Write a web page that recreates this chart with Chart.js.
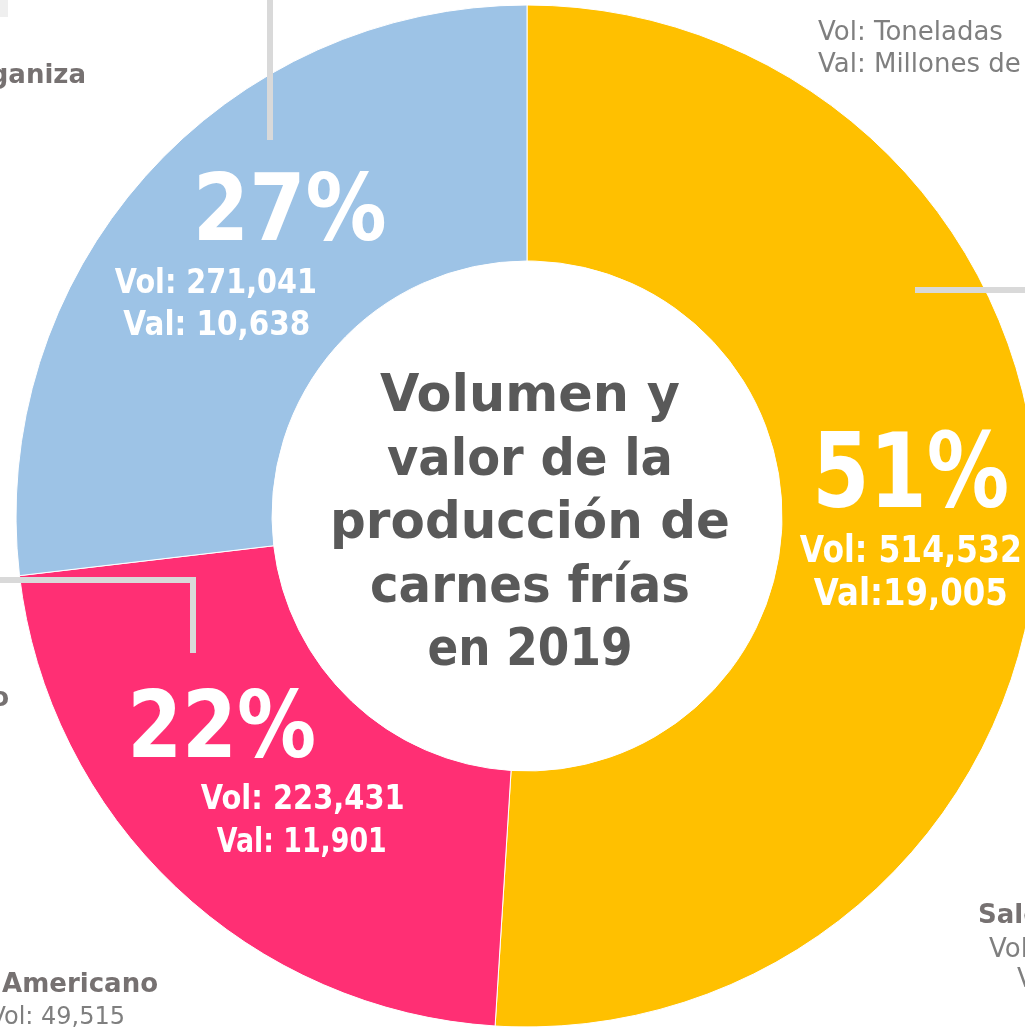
<!DOCTYPE html>
<html lang="es">
<head>
<meta charset="utf-8">
<script src="https://cdn.jsdelivr.net/npm/chart.js@4.4.1/dist/chart.umd.min.js"></script>
<style>
  html, body { margin: 0; padding: 0; background: #fff; overflow: hidden; }
  #wrap { position: absolute; left: 0; top: 0; width: 1054px; height: 1032px; }
</style>
</head>
<body>
<div id="wrap"><canvas id="donut"></canvas></div>
<script>
// datos (volumen en toneladas, valor en millones de pesos)
const categories = ['Salchicha', 'Otros', 'Jamón'];
const volumen = [514532, 223431, 271041];
const valor = [19005, 11901, 10638];
const valSep = [':', ': ', ': '];
const titulo = ['Volumen y', 'valor de la', 'producción de', 'carnes frías', 'en 2019'];

const colores = ['#FFC000', '#FF2F74', '#9DC3E6'];
const FONT = '"DejaVu Sans", "Liberation Sans", sans-serif';

// posicion de las etiquetas respecto al centro de cada arco
const etiquetas = [
  { pct: [1, -21, 103, 197], vol: [1, 34, 37, 222], val: [1, 77, 37, 194] },
  { pct: [-42, -37, 92, 189], vol: [39, 15, 34, 204], val: [38, 58, 34, 170] },
  { pct: [49, -21, 92, 194], vol: [-25, 32, 34, 202], val: [-24, 74, 34, 187] }
];

const fmt = n => n.toLocaleString('en-US');

function texto(ctx, str, x, y, size, weight, color, align, maxW) {
  ctx.font = weight + ' ' + size + 'px ' + FONT;
  ctx.fillStyle = color;
  ctx.textAlign = align;
  ctx.textBaseline = 'alphabetic';
  if (maxW) ctx.fillText(str, x, y, maxW);
  else ctx.fillText(str, x, y);
}

const anotaciones = {
  id: 'anotaciones',
  afterDatasetsDraw(chart) {
    const ctx = chart.ctx;
    const arcs = chart.getDatasetMeta(0).data;
    const total = volumen.reduce((a, b) => a + b, 0);
    ctx.save();

    // lineas guia
    ctx.strokeStyle = '#D9D9D9';
    ctx.lineWidth = 6;
    ctx.lineJoin = 'miter';
    [[[270, 0], [270, 140]], [[915, 290], [1040, 290]], [[-5, 580], [193, 580], [193, 653]]].forEach(pts => {
      ctx.beginPath();
      pts.forEach((p, i) => i ? ctx.lineTo(p[0], p[1]) : ctx.moveTo(p[0], p[1]));
      ctx.stroke();
    });
    ctx.fillStyle = '#EFEFEF';
    ctx.fillRect(0, 0, 8, 17);

    // etiquetas dentro de cada segmento
    arcs.forEach((arc, i) => {
      const c = arc.tooltipPosition();
      const e = etiquetas[i];
      const pct = Math.round(volumen[i] / total * 100) + '%';
      texto(ctx, pct, c.x + e.pct[0], c.y + e.pct[1], e.pct[2], 'bold', '#fff', 'center', e.pct[3]);
      texto(ctx, 'Vol: ' + fmt(volumen[i]), c.x + e.vol[0], c.y + e.vol[1], e.vol[2], 'bold', '#fff', 'center', e.vol[3]);
      texto(ctx, 'Val' + valSep[i] + fmt(valor[i]), c.x + e.val[0], c.y + e.val[1], e.val[2], 'bold', '#fff', 'center', e.val[3]);
    });

    // titulo central
    const cx = arcs[0].x, cy = arcs[0].y;
    const anchos = [300, 286, 400, 320, 205];
    titulo.forEach((linea, i) => {
      texto(ctx, linea, cx + 3, cy - 105 + i * 63.5, 52, 'bold', '#595959', 'center', anchos[i]);
    });

    // textos exteriores
    texto(ctx, 'Vol: Toneladas', 818, 40, 26, 'normal', '#7F7F7F', 'left');
    texto(ctx, 'Val: Millones de pesos', 818, 72, 26, 'normal', '#7F7F7F', 'left');
    texto(ctx, 'Longaniza', 86, 83, 26, 'bold', '#767171', 'right');
    texto(ctx, 'o', 9, 706, 26, 'bold', '#767171', 'right');
    texto(ctx, 'Americano', 158, 992, 26, 'bold', '#767171', 'right');
    texto(ctx, 'Vol: 49,515', 125, 1024, 24, 'normal', '#7F7F7F', 'right');
    texto(ctx, 'Salchicha', 978, 923, 26, 'bold', '#767171', 'left');
    texto(ctx, 'Vol:', 989, 957, 26, 'normal', '#7F7F7F', 'left');
    texto(ctx, 'Val:', 1017, 987, 26, 'normal', '#7F7F7F', 'left');

    ctx.restore();
  }
};

new Chart(document.getElementById('donut'), {
  type: 'doughnut',
  data: {
    labels: categories,
    datasets: [{
      data: volumen,
      backgroundColor: colores,
      borderColor: '#ffffff',
      borderWidth: 1,
      hoverOffset: 0
    }]
  },
  options: {
    responsive: true,
    maintainAspectRatio: false,
    animation: false,
    radius: 511,
    cutout: '49.9%',
    layout: { padding: 0 },
    plugins: {
      legend: { display: false },
      tooltip: { enabled: false }
    }
  },
  plugins: [anotaciones]
});
</script>
</body>
</html>
